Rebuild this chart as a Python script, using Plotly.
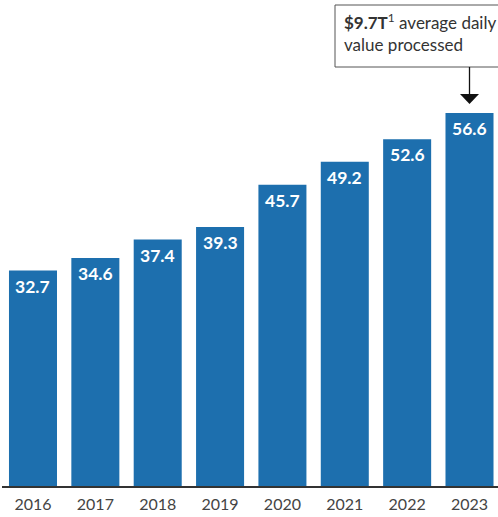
import plotly.graph_objects as go

years = ["2016", "2017", "2018", "2019", "2020", "2021", "2022", "2023"]
values = [32.7, 34.6, 37.4, 39.3, 45.7, 49.2, 52.6, 56.6]
labels = ["32.7", "34.6", "37.4", "39.3", "45.7", "49.2", "52.6", "56.6"]

BLUE = "#1d6fae"
FONT = "Lato"

fig = go.Figure()
fig.add_trace(go.Bar(
    x=list(range(len(years))), y=values,
    marker=dict(color=BLUE, line=dict(width=0)),
    width=0.77, hoverinfo="skip",
))

annotations = []
for i, (v, t) in enumerate(zip(values, labels)):
    annotations.append(dict(
        x=i, y=v, xref="x", yref="y", text="<b>" + t + "</b>",
        showarrow=False, yanchor="top", yshift=-3,
        font=dict(family=FONT, size=17.5, color="white"),
    ))

# callout text
annotations.append(dict(
    x=(342 - 2) / 496, y=(486 - 8) / 486, xref="paper", yref="paper",
    xanchor="left", yanchor="top", align="left", showarrow=False,
    text="<b>$9.7T</b><sup>1</sup> average daily<br>value processed",
    font=dict(family=FONT, size=17, color="#333333"),
))

last = len(values) - 1
shapes = [
    dict(type="rect", xref="paper", yref="paper",
         x0=(335 - 2) / 496, x1=1.005, y0=(486 - 67) / 486, y1=(486 - 5) / 486,
         line=dict(color="#555555", width=1), fillcolor="white", layer="above"),
    # arrow stem, anchored on the last bar
    dict(type="line", xref="x", yref="y", xsizemode="pixel", ysizemode="pixel",
         xanchor=last, yanchor=values[last], x0=0, x1=0, y0=18, y1=46,
         line=dict(color="#111111", width=1.3)),
    # arrow head
    dict(type="path", xref="x", yref="y", xsizemode="pixel", ysizemode="pixel",
         xanchor=last, yanchor=values[last], path="M -9.5,19 L 9.5,19 L 0,9 Z",
         fillcolor="#111111", line=dict(width=0)),
]

fig.update_layout(
    width=498, height=517,
    margin=dict(l=2, r=0, t=0, b=31),
    plot_bgcolor="white", paper_bgcolor="white",
    showlegend=False,
    annotations=annotations,
    shapes=shapes,
    xaxis=dict(
        tickmode="array", tickvals=list(range(len(years))), ticktext=years,
        range=[-0.497, 7.457], showgrid=False, zeroline=False,
        showline=True, linecolor="#333333", linewidth=2,
        ticks="", ticklabelstandoff=3,
        tickfont=dict(family=FONT, size=16, color="#444444"),
    ),
    yaxis=dict(range=[0, 73.75], visible=False, showgrid=False, zeroline=False),
)

fig.write_html(
    "out.html",
    config={"displayModeBar": False},
    post_script="document.body.style.margin='0';document.body.style.overflow='hidden';",
)
